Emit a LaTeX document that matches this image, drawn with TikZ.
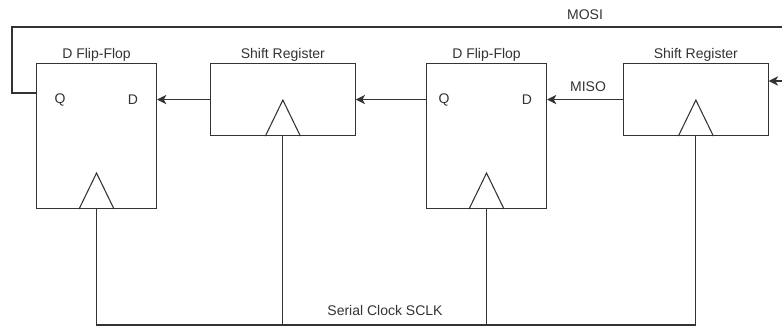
\documentclass[tikz,border=0pt]{standalone}
\usepackage{fontspec}
\setmainfont{Liberation Sans}
\usetikzlibrary{arrows.meta,positioning}
\definecolor{linec}{RGB}{51,51,51}

\tikzset{
	wire/.style={draw=linec, line width=0.8pt},
	arr/.style={wire, -{Stealth[length=7pt,width=7pt,inset=2pt]}},
	block/.style={draw=linec, line width=0.8pt, inner sep=0pt, anchor=north west},
	ffbox/.style={block, minimum width=90pt, minimum height=108.75pt},
	srbox/.style={block, minimum width=108.5pt, minimum height=54pt},
	txt/.style={text=linec, font=\fontsize{10.5}{12}\selectfont, inner sep=1pt}
}

\begin{document}
\begin{tikzpicture}[x=0.75pt,y=-0.75pt]

%%%%%%%%%%%%%%%%%%%%%%%%%%%%%%%%%%%%%%%%%%%%%%%%%%%%%%%%%%%%%%%%%%%%%
%	SPI ring: two flip-flops and two shift registers, one clock	%
%%%%%%%%%%%%%%%%%%%%%%%%%%%%%%%%%%%%%%%%%%%%%%%%%%%%%%%%%%%%%%%%%%%%%

	\useasboundingbox (0,0) rectangle (782,328);

	%Triangle half width and height of the clock input
	\pgfmathsetmacro{\tw}{17.5}
	\pgfmathsetmacro{\th}{36}

	%The four boxes
	\node[ffbox, label={[txt]above:D Flip-Flop}] (dff1) at (36,63) {};
	\node[srbox, label={[txt]above:Shift Register}] (sr1) at (210,63) {};
	\node[ffbox, label={[txt]above:D Flip-Flop}] (dff2) at (426,63) {};
	\node[srbox, label={[txt]above:Shift Register}] (sr2) at (623,63) {};

	%Pins of the flip-flops
	\node[txt] (q1) at (60,100) {Q};
	\node[txt] (d1) at (133,100) {D};
	\node[txt] (q2) at (444,100) {Q};
	\node[txt] (d2) at (527,100) {D};

	%Clock triangles
	\foreach \b in {dff1,sr1,dff2,sr2}
		\draw[wire] (\b.south) ++(-\tw,0) -- ++(\tw,-\th) -- ++(\tw,\th);

	%Data path
	\draw[arr] (sr1.west) -- (sr1.west -| dff1.east);
	\draw[arr] (sr1.east -| dff2.west) -- (sr1.east);
	\draw[arr] (sr2.west) -- (sr2.west -| dff2.east);
	\node[txt] (miso) at (588,87) {MISO};

	%MOSI loop back from Q of the first flip-flop
	\coordinate (qout) at (36,93);
	\coordinate (loopL) at (12,27);
	\coordinate (loopR) at (782,27);
	\coordinate (mosiin) at (782,81);
	\draw[wire] (qout) -- (loopL |- qout) -- (loopL) -- (loopR);
	\draw[arr] (mosiin) -- (mosiin -| sr2.east);
	\node[txt] (mosi) at (585,15) {MOSI};

	%Serial clock bus
	\coordinate (busL) at (dff1.south |- 0,325);
	\coordinate (busR) at (sr2.south |- 0,325);
	\draw[wire] (dff1.south) -- (busL) -- (busR) -- (sr2.south);
	\draw[wire] (sr1.south) -- (sr1.south |- busL);
	\draw[wire] (dff2.south) -- (dff2.south |- busL);
	\node[txt] (sclk) at (385,310) {Serial Clock SCLK};

\end{tikzpicture}
\end{document}
